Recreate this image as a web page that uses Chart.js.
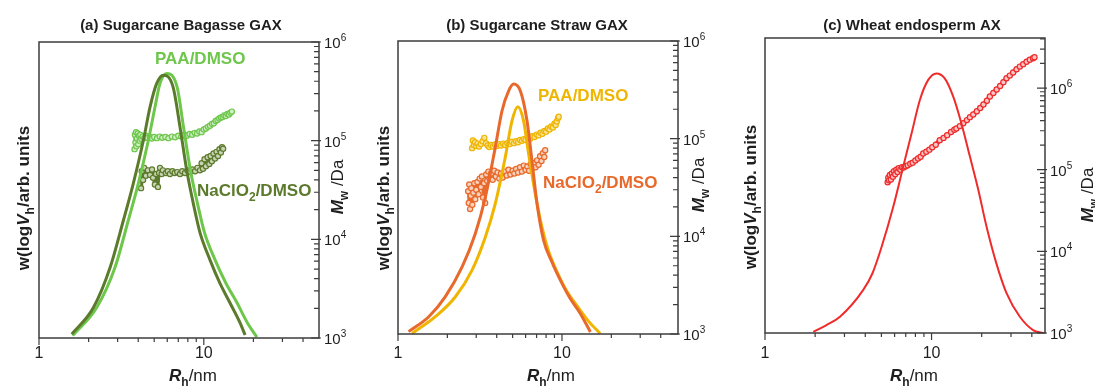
<!DOCTYPE html>
<html>
<head>
<meta charset="utf-8">
<script src="https://cdn.jsdelivr.net/npm/chart.js@4.4.1/dist/chart.umd.min.js"></script>
<style>
  html, body { margin: 0; padding: 0; background: #fff; }
  #wrap { position: relative; width: 1095px; height: 387px; overflow: hidden; }
  canvas { position: absolute; top: 0; }
</style>
</head>
<body>
<div id="wrap">
  <canvas id="chartA" width="365" height="387" style="left:0"></canvas>
  <canvas id="chartB" width="360" height="387" style="left:365px"></canvas>
  <canvas id="chartC" width="370" height="387" style="left:725px"></canvas>
</div>
<script>
const FONT = '"Liberation Sans", Arial, Helvetica, sans-serif';
const INK = '#1e1e1e';

const lightGreen = '#6dc74b', oliveGreen = '#5c7a2c';
const orange = '#e8692b', amber = '#efb500', red = '#ef2b2b';

// shared axis ticks
const xMajorTicks = [1, 10];
const xTickLabels = ['1', '10'];
const xMinorTicks = [2, 3, 4, 5, 6, 7, 8, 9, 20, 30, 40];
const mwMajorTicks = [1e3, 1e4, 1e5, 1e6];
const mwExponents = ['3', '4', '5', '6'];
const mwMinorSteps = [2, 3, 4, 5, 6, 7, 8, 9];

// (a) Sugarcane Bagasse GAX
const aNaclCurveX = [1.58, 2.14, 2.70, 3.25, 3.73, 4.30, 4.72, 5.18, 5.68, 6.50, 7.17, 7.88, 8.64, 9.48, 10.9, 12.5, 14.4, 16.6, 17.8];
const aNaclCurveY = [0.013, 0.103, 0.238, 0.397, 0.521, 0.668, 0.781, 0.86, 0.888, 0.849, 0.713, 0.566, 0.454, 0.356, 0.264, 0.186, 0.119, 0.051, 0.01];
const aPaaCurveX = [1.60, 2.24, 2.89, 3.48, 4.00, 4.61, 5.06, 5.42, 5.96, 6.88, 7.53, 8.30, 9.16, 10.1, 11.7, 13.6, 15.9, 18.4, 21.0];
const aPaaCurveY = [0.008, 0.103, 0.238, 0.397, 0.521, 0.668, 0.781, 0.86, 0.894, 0.849, 0.713, 0.566, 0.454, 0.356, 0.264, 0.186, 0.119, 0.051, 0.003];
const aPaaMwX = [3.80, 3.82, 3.85, 3.88, 3.90, 3.93, 3.97, 4.00, 4.04, 4.08, 4.12, 4.18, 4.25, 4.35, 4.45, 4.55, 4.70, 4.85, 5.0, 5.2, 5.4, 5.6, 5.85, 6.1, 6.4, 6.7, 7.0, 7.3, 7.6, 7.9, 8.2, 8.5, 8.8, 9.1, 9.4, 9.7, 10.0, 10.3, 10.6, 10.9, 11.2, 11.5, 11.8, 12.1, 12.4, 12.7, 13.0, 13.3, 13.6, 13.9, 14.2, 14.5, 14.8];
const aPaaMwY = [8.2e4, 1.15e5, 9.6e4, 1.22e5, 8.8e4, 1.05e5, 1.18e5, 9.2e4, 1.12e5, 1.0e5, 1.14e5, 1.04e5, 1.1e5, 1.06e5, 1.12e5, 1.07e5, 1.1e5, 1.05e5, 1.09e5, 1.06e5, 1.1e5, 1.07e5, 1.09e5, 1.06e5, 1.1e5, 1.08e5, 1.12e5, 1.1e5, 1.15e5, 1.12e5, 1.17e5, 1.15e5, 1.2e5, 1.18e5, 1.24e5, 1.22e5, 1.3e5, 1.33e5, 1.38e5, 1.42e5, 1.48e5, 1.5e5, 1.58e5, 1.62e5, 1.68e5, 1.72e5, 1.74e5, 1.8e5, 1.78e5, 1.86e5, 1.84e5, 1.92e5, 1.97e5];
const aNaclMwX = [4.16, 4.20, 4.28, 4.35, 4.45, 4.58, 4.72, 4.85, 4.92, 5.05, 5.13, 5.27, 5.35, 5.42, 5.55, 5.65, 5.89, 6.05, 6.23, 6.45, 6.66, 6.9, 7.17, 7.4, 7.69, 7.95, 8.25, 8.55, 8.85, 9.15, 9.48, 9.7, 9.89, 10.1, 10.3, 10.55, 10.8, 11.0, 11.2, 11.45, 11.7, 11.95, 12.2, 12.45, 12.7, 12.9, 13.1];
const aNaclMwY = [3.3e4, 4.9e4, 4.0e4, 5.3e4, 4.4e4, 5.0e4, 4.5e4, 5.1e4, 4.2e4, 3.6e4, 4.6e4, 3.4e4, 4.7e4, 5.3e4, 4.6e4, 5.0e4, 4.7e4, 4.9e4, 4.6e4, 4.9e4, 4.7e4, 4.8e4, 4.6e4, 4.9e4, 4.7e4, 5.0e4, 4.8e4, 5.1e4, 4.9e4, 5.3e4, 5.0e4, 5.9e4, 5.2e4, 6.5e4, 5.5e4, 6.8e4, 5.8e4, 7.0e4, 6.2e4, 7.4e4, 6.6e4, 7.7e4, 7.0e4, 8.2e4, 7.6e4, 8.6e4, 8.3e4];

// (b) Sugarcane Straw GAX
const bNaclCurveX = [1.16, 1.54, 1.94, 2.46, 2.96, 3.41, 3.92, 4.31, 4.73, 5.07, 5.57, 6.12, 6.56, 7.04, 7.72, 8.69, 9.77, 11.2, 12.9, 14.9];
const bNaclCurveY = [0.008, 0.059, 0.127, 0.229, 0.342, 0.467, 0.637, 0.762, 0.83, 0.853, 0.83, 0.728, 0.592, 0.446, 0.32, 0.245, 0.184, 0.122, 0.071, 0.007];
const bPaaCurveX = [1.22, 1.69, 2.24, 2.83, 3.41, 3.92, 4.51, 4.96, 5.38, 5.83, 6.26, 6.87, 7.55, 8.25, 9.23, 10.6, 12.4, 14.5, 17.1];
const bPaaCurveY = [0.002, 0.059, 0.127, 0.218, 0.331, 0.445, 0.603, 0.728, 0.776, 0.728, 0.615, 0.479, 0.365, 0.286, 0.218, 0.150, 0.095, 0.044, 0.002];
const bPaaMwX = [2.83, 2.86, 2.9, 2.95, 3.0, 3.06, 3.12, 3.2, 3.28, 3.36, 3.44, 3.52, 3.6, 3.7, 3.8, 3.9, 4.0, 4.12, 4.25, 4.38, 4.5, 4.65, 4.8, 4.95, 5.1, 5.25, 5.4, 5.55, 5.7, 5.85, 6.0, 6.2, 6.4, 6.6, 6.8, 7.0, 7.2, 7.4, 7.6, 7.8, 8.0, 8.2, 8.4, 8.6, 8.8, 9.0, 9.15, 9.3, 9.45, 9.55];
const bPaaMwY = [8.0e4, 9.6e4, 8.6e4, 9.2e4, 8.4e4, 8.9e4, 8.3e4, 8.8e4, 9.4e4, 1.02e5, 9.0e4, 8.5e4, 8.2e4, 8.6e4, 8.3e4, 8.7e4, 8.4e4, 8.8e4, 8.5e4, 8.9e4, 8.6e4, 9.0e4, 8.8e4, 9.3e4, 9.0e4, 9.4e4, 9.2e4, 9.7e4, 9.5e4, 9.9e4, 9.7e4, 1.02e5, 1.0e5, 1.06e5, 1.04e5, 1.1e5, 1.08e5, 1.15e5, 1.12e5, 1.2e5, 1.18e5, 1.27e5, 1.24e5, 1.33e5, 1.3e5, 1.42e5, 1.38e5, 1.5e5, 1.62e5, 1.68e5];
const bNaclMwX = [2.68, 2.7, 2.72, 2.75, 2.78, 2.8, 2.84, 2.88, 2.92, 2.96, 3.0, 3.05, 3.1, 3.15, 3.2, 3.25, 3.3, 3.35, 3.4, 3.45, 3.5, 3.56, 3.62, 3.7, 3.78, 3.86, 3.95, 4.05, 4.15, 4.25, 4.35, 4.48, 4.6, 4.72, 4.85, 5.0, 5.12, 5.25, 5.4, 5.55, 5.7, 5.85, 6.0, 6.15, 6.3, 6.45, 6.6, 6.75, 6.9, 7.05, 7.2, 7.35, 7.5, 7.65, 7.8, 7.9];
const bNaclMwY = [2.9e4, 2.2e4, 3.4e4, 1.9e4, 2.6e4, 3.1e4, 2.1e4, 2.8e4, 3.5e4, 2.4e4, 3.0e4, 3.6e4, 2.7e4, 3.9e4, 3.2e4, 4.1e4, 2.5e4, 3.5e4, 2.2e4, 4.3e4, 3.7e4, 4.6e4, 3.9e4, 4.4e4, 3.8e4, 4.7e4, 4.1e4, 4.5e4, 3.9e4, 4.4e4, 4.0e4, 4.6e4, 4.2e4, 4.8e4, 4.3e4, 4.7e4, 4.4e4, 4.9e4, 4.5e4, 5.1e4, 4.6e4, 5.3e4, 4.8e4, 5.2e4, 4.7e4, 5.5e4, 5.0e4, 5.6e4, 5.1e4, 6.0e4, 5.4e4, 6.6e4, 5.9e4, 7.1e4, 6.5e4, 7.6e4];

// (c) Wheat endosperm AX
const cCurveX = [1.95, 2.34, 2.82, 3.89, 4.4, 5.0, 5.89, 6.76, 7.59, 8.51, 9.55, 10.7, 12.0, 13.5, 15.1, 17.0, 19.1, 21.4, 24.5, 28.2, 33.9, 40.7, 46.8];
const cCurveY = [0.004, 0.027, 0.055, 0.146, 0.2, 0.29, 0.428, 0.564, 0.677, 0.79, 0.858, 0.88, 0.863, 0.801, 0.711, 0.598, 0.485, 0.36, 0.236, 0.135, 0.055, 0.01, 0.0];
const cMwX = [5.45, 5.5, 5.55, 5.62, 5.7, 5.78, 5.86, 5.95, 6.05, 6.15, 6.25, 6.35, 6.5, 6.65, 6.8, 7.0, 7.2, 7.45, 7.7, 8.0, 8.3, 8.6, 8.91, 9.3, 9.7, 10.1, 10.6, 11.2, 11.8, 12.4, 13.1, 13.7, 14.1, 14.8, 15.5, 16.3, 17.0, 17.8, 18.7, 19.6, 20.5, 21.5, 22.4, 23.5, 24.6, 25.8, 27.0, 28.2, 29.5, 30.9, 32.4, 33.9, 35.5, 37.2, 38.9, 40.7, 41.5];
const cMwY = [7.0e4, 8.0e4, 7.4e4, 8.6e4, 7.6e4, 9.0e4, 8.2e4, 9.6e4, 8.8e4, 1.0e5, 9.4e4, 1.04e5, 1.0e5, 1.07e5, 1.06e5, 1.1e5, 1.13e5, 1.18e5, 1.22e5, 1.3e5, 1.37e5, 1.44e5, 1.58e5, 1.66e5, 1.76e5, 1.88e5, 2.02e5, 2.3e5, 2.45e5, 2.65e5, 2.9e5, 3.08e5, 3.2e5, 3.42e5, 3.7e5, 4.05e5, 4.4e5, 4.75e5, 5.2e5, 5.7e5, 6.3e5, 7.0e5, 7.9e5, 8.7e5, 9.6e5, 1.06e6, 1.18e6, 1.32e6, 1.42e6, 1.55e6, 1.7e6, 1.83e6, 1.96e6, 2.1e6, 2.22e6, 2.32e6, 2.38e6];

function pts(xs, ys) {
    return xs.map(function (x, i) { return { x: x, y: ys[i] }; });
}

function curveSet(xs, ys, color, width) {
    return {
        data: pts(xs, ys), showLine: true, yAxisID: 'y',
        borderColor: color, borderWidth: width, pointRadius: 0,
        cubicInterpolationMode: 'monotone'
    };
}

// Mw scatter: open circles strung on a thick trace, like the dense SEC-MALS points
function mwSet(xs, ys, color, tint, lineWidth, radius) {
    return {
        data: pts(xs, ys), showLine: true, yAxisID: 'y2',
        borderColor: color, borderWidth: lineWidth,
        borderJoinStyle: 'round', borderCapStyle: 'round',
        pointRadius: radius, pointBorderWidth: 1.2,
        pointBorderColor: color, pointBackgroundColor: tint
    };
}

// draws a run of text pieces with their own fonts / offsets
function drawRich(ctx, parts, x, y, align) {
    let w = 0;
    parts.forEach(function (p) { ctx.font = p.f; w += ctx.measureText(p.t).width; });
    let cx = align === 'center' ? x - w / 2 : x;
    parts.forEach(function (p) {
        ctx.font = p.f;
        ctx.fillStyle = p.c || INK;
        ctx.fillText(p.t, cx, y + (p.dy || 0));
        cx += ctx.measureText(p.t).width;
    });
}

function f(style, size) { return style + ' ' + size + 'px ' + FONT; }

const panelDecor = {
    id: 'panelDecor',
    afterDraw: function (chart) {
        const o = chart.options.plugins.panelDecor;
        const ctx = chart.ctx, a = chart.chartArea;
        const xs = chart.scales.x, ys = chart.scales.y2;
        ctx.save();
        ctx.textBaseline = 'alphabetic';

        // frame
        ctx.strokeStyle = '#3c3c3c';
        ctx.lineWidth = 1.5;
        ctx.strokeRect(a.left, a.top, a.right - a.left, a.bottom - a.top);

        // x ticks (outward)
        ctx.lineWidth = 1.2;
        ctx.beginPath();
        xMajorTicks.forEach(function (v) {
            const p = xs.getPixelForValue(v);
            ctx.moveTo(p, a.bottom); ctx.lineTo(p, a.bottom + 7);
        });
        xMinorTicks.forEach(function (v) {
            if (v >= xs.max) return;
            const p = xs.getPixelForValue(v);
            ctx.moveTo(p, a.bottom); ctx.lineTo(p, a.bottom + 4);
        });
        // Mw ticks (inward)
        mwMajorTicks.forEach(function (v) {
            const p = ys.getPixelForValue(v);
            ctx.moveTo(a.right - 8, p); ctx.lineTo(a.right + 2, p);
        });
        mwMajorTicks.forEach(function (d) {
            mwMinorSteps.forEach(function (m) {
                const v = d * m;
                if (v >= ys.max) return;
                const p = ys.getPixelForValue(v);
                ctx.moveTo(a.right - 5, p); ctx.lineTo(a.right, p);
            });
        });
        ctx.stroke();

        // tick labels
        ctx.fillStyle = INK;
        ctx.textAlign = 'left';
        xMajorTicks.forEach(function (v, i) {
            ctx.font = f('normal', 16);
            const w = ctx.measureText(xTickLabels[i]).width;
            ctx.fillText(xTickLabels[i], xs.getPixelForValue(v) - w / 2, 358);
        });
        mwMajorTicks.forEach(function (v, i) {
            const p = ys.getPixelForValue(v);
            drawRich(ctx, [{ t: '10', f: f('normal', 15) }, { t: mwExponents[i], f: f('normal', 10), dy: -7 }], a.right + 5, p + 6, 'left');
        });

        // panel title and axis titles
        drawRich(ctx, [{ t: o.title, f: f('bold', 15) }], o.titleX, 30, 'center');
        drawRich(ctx, [
            { t: 'R', f: f('italic bold', 17) },
            { t: 'h', f: f('bold', 12), dy: 5 },
            { t: '/nm', f: f('normal', 17) }
        ], o.xTitleX, 381, 'center');

        ctx.save();
        ctx.translate(o.yTitleX, o.yTitleY);
        ctx.rotate(-Math.PI / 2);
        drawRich(ctx, [
            { t: 'w(log', f: f('bold', 17) },
            { t: 'V', f: f('italic bold', 17) },
            { t: 'h', f: f('bold', 12), dy: 5 },
            { t: '/arb. units', f: f('bold', 17) }
        ], 0, 6, 'center');
        ctx.restore();

        ctx.save();
        ctx.translate(o.mwTitleX, o.mwTitleY);
        ctx.rotate(-Math.PI / 2);
        drawRich(ctx, [
            { t: 'M', f: f('italic bold', 17) },
            { t: 'w', f: f('bold', 12), dy: 5 },
            { t: ' /Da', f: f('normal', 17) }
        ], 0, 6, 'center');
        ctx.restore();

        // in-plot series labels
        (o.labels || []).forEach(function (l) {
            const parts = l.sub
                ? [{ t: 'NaClO', f: f('bold', 17), c: l.color }, { t: '2', f: f('bold', 12), dy: 5, c: l.color }, { t: '/DMSO', f: f('bold', 17), c: l.color }]
                : [{ t: l.text, f: f('bold', 17), c: l.color }];
            drawRich(ctx, parts, l.x, l.y, 'left');
        });
        ctx.restore();
    }
};

function makePanel(canvasId, p) {
    return new Chart(document.getElementById(canvasId), {
        type: 'scatter',
        data: { datasets: p.datasets },
        plugins: [panelDecor],
        options: {
            responsive: false,
            animation: false,
            layout: { padding: { top: p.top, left: 0, right: 0, bottom: 0 } },
            plugins: {
                legend: { display: false },
                tooltip: { enabled: false },
                panelDecor: p.decor
            },
            scales: {
                x: {
                    type: 'logarithmic', min: 1, max: p.xMax,
                    grid: { display: false }, border: { display: false }, ticks: { display: false },
                    afterFit: function (s) { s.height = p.xHeight; }
                },
                y: {
                    type: 'linear', position: 'left', min: 0, max: 1,
                    grid: { display: false }, border: { display: false }, ticks: { display: false },
                    afterFit: function (s) { s.width = p.leftWidth; }
                },
                y2: {
                    type: 'logarithmic', position: 'right', min: 1e3, max: p.mwMax,
                    grid: { display: false }, border: { display: false }, ticks: { display: false },
                    afterFit: function (s) { s.width = p.rightWidth; }
                }
            }
        }
    });
}

makePanel('chartA', {
    top: 42, xHeight: 49, leftWidth: 39, rightWidth: 46, xMax: 50, mwMax: 1e6,
    datasets: [
        curveSet(aNaclCurveX, aNaclCurveY, oliveGreen, 3),
        curveSet(aPaaCurveX, aPaaCurveY, lightGreen, 3),
        mwSet(aPaaMwX, aPaaMwY, lightGreen, '#d4efc8', 3.5, 2.6),
        mwSet(aNaclMwX, aNaclMwY, oliveGreen, '#c9d4b4', 3, 2.6)
    ],
    decor: {
        title: '(a) Sugarcane Bagasse GAX', titleX: 181,
        xTitleX: 193, yTitleX: 23, yTitleY: 198, mwTitleX: 337, mwTitleY: 187,
        labels: [
            { text: 'PAA/DMSO', color: lightGreen, x: 155, y: 64 },
            { sub: true, color: oliveGreen, x: 197, y: 196 }
        ]
    }
});

makePanel('chartB', {
    top: 41, xHeight: 53, leftWidth: 33, rightWidth: 47, xMax: 51, mwMax: 1e6,
    datasets: [
        curveSet(bNaclCurveX, bNaclCurveY, orange, 3),
        curveSet(bPaaCurveX, bPaaCurveY, amber, 3),
        mwSet(bPaaMwX, bPaaMwY, amber, '#f7e3a0', 3.5, 2.6),
        mwSet(bNaclMwX, bNaclMwY, orange, '#f8d2bd', 2.5, 2.6)
    ],
    decor: {
        title: '(b) Sugarcane Straw GAX', titleX: 172,
        xTitleX: 186, yTitleX: 18, yTitleY: 198, mwTitleX: 333, mwTitleY: 185,
        labels: [
            { text: 'PAA/DMSO', color: amber, x: 173, y: 101 },
            { sub: true, color: orange, x: 178, y: 188 }
        ]
    }
});

makePanel('chartC', {
    top: 38, xHeight: 54, leftWidth: 40, rightWidth: 50, xMax: 48, mwMax: 4.1e6,
    datasets: [
        curveSet(cCurveX, cCurveY, red, 2),
        mwSet(cMwX, cMwY, red, '#f9c4c4', 4.5, 2.6)
    ],
    decor: {
        title: '(c) Wheat endosperm AX', titleX: 187,
        xTitleX: 189, yTitleX: 25, yTitleY: 197, mwTitleX: 362, mwTitleY: 195,
        labels: []
    }
});
</script>
</body>
</html>
